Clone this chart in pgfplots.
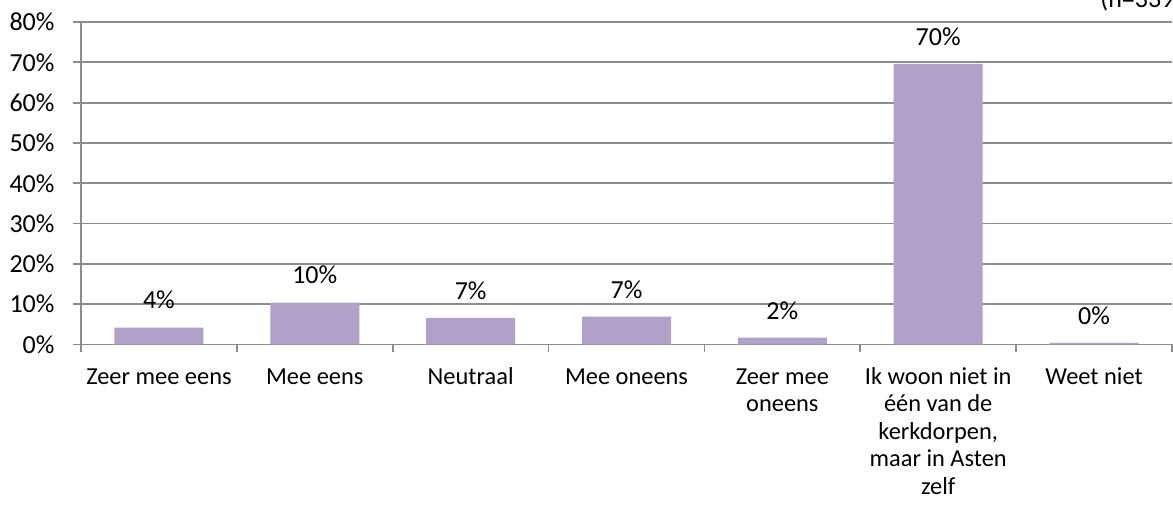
\documentclass[border=0pt]{standalone}
\usepackage{fontspec}
\setmainfont{Carlito}
\usepackage{pgfplots}
\pgfplotsset{compat=1.18}
\definecolor{barc}{HTML}{B1A0C7}
\definecolor{gridc}{HTML}{8C8C8C}
\begin{document}
\fontsize{12.2}{13.75}\selectfont
\begin{tikzpicture}
\begin{axis}[
  scale only axis, width=545.5pt, height=161.25pt,
  xmin=-0.5, xmax=6.5, ymin=0, ymax=80,
  axis x line=bottom, axis y line=left,
  axis line style={-, gridc, line width=0.9pt},
  ytick={0,10,...,80},
  yticklabel={\pgfmathprintnumber{\tick}\%},
  /pgf/number format/assume math mode=true,
  ymajorgrids, grid style={gridc, line width=0.9pt},
  tick align=outside, major tick length=4pt,
  tick style={gridc, line width=0.9pt},
  xtick={-0.5,0.5,1.5,2.5,3.5,4.5,5.5,6.5},
  xticklabels={{},{},{},{},{},{},{},{}},
  extra x ticks={0,1,2,3,4,5,6},
  extra x tick labels={\strut Zeer mee eens,\strut Mee eens,\strut Neutraal,\strut Mee oneens,{\strut Zeer mee\\oneens},{\strut Ik woon niet in\\één van de\\kerkdorpen,\\maar in Asten\\zelf},\strut Weet niet},
  extra x tick style={grid=none, tick style={draw=none}},
  xticklabel style={align=center, anchor=north, yshift=-2pt, font=\fontsize{12.2}{13.75}\selectfont},
  yticklabel style={xshift=-5pt, font=\fontsize{13}{14}\selectfont},
  ybar, bar width=44.5pt,
  nodes near coords, point meta=explicit symbolic,
  every node near coord/.append style={anchor=south, inner sep=0pt, yshift=9pt, font=\fontsize{13}{14}\selectfont, text=black},
  clip=false,
]
\addplot[fill=barc, draw=none] coordinates {
  (0,4.2) [4\%]
  (1,10.4) [10\%]
  (2,6.6) [7\%]
  (3,6.9) [7\%]
  (4,1.7) [2\%]
  (5,69.6) [70\%]
  (6,0.4) [0\%]
};
\coordinate (bl) at (rel axis cs:0,0);
\coordinate (tr) at (rel axis cs:1,1);
\node[anchor=base west, inner sep=0pt, font=\fontsize{13}{14}\selectfont] at ([yshift=7pt]rel axis cs:0.934,1) {(n=339)};
\end{axis}
\pgfresetboundingbox
\useasboundingbox ([xshift=-40.5pt,yshift=-80.25pt]bl) rectangle ([xshift=0.5pt,yshift=11pt]tr);
\end{tikzpicture}
\end{document}
